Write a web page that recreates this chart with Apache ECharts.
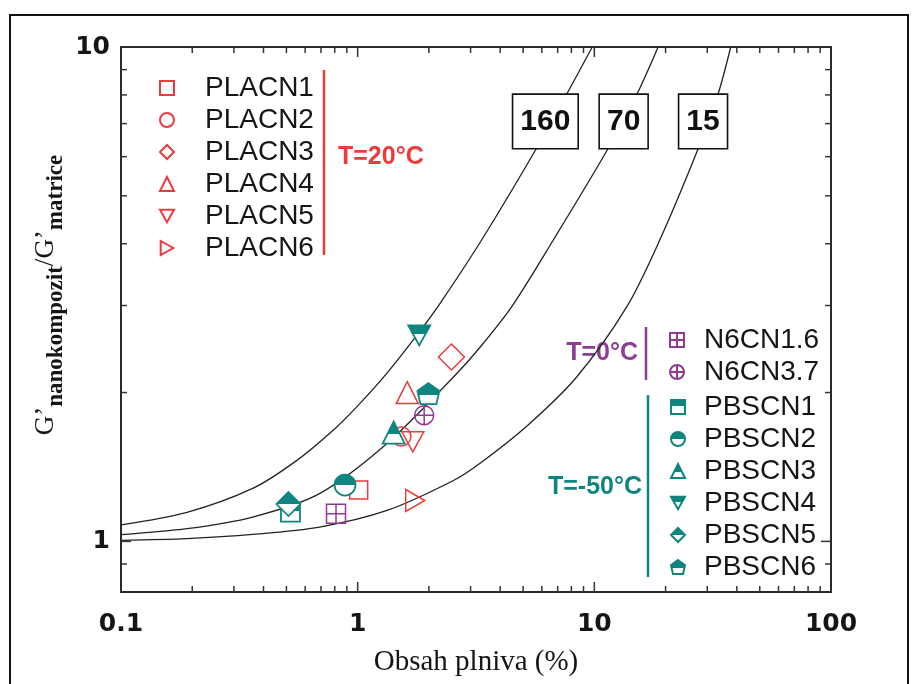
<!DOCTYPE html>
<html><head><meta charset="utf-8">
<script src="https://cdn.jsdelivr.net/npm/echarts@6/dist/echarts.min.js"></script>
<style>html,body{margin:0;padding:0;background:#fff}#chart{width:914px;height:684px}</style>
</head><body><div id="chart"></div>
<script>
// ---- data ----
const xTickLabels = [0.1, 1, 10, 100];
const yTickLabels = [1, 10];
const xMinorTicks = [0.2,0.3,0.4,0.5,0.6,0.7,0.8,0.9,2,3,4,5,6,7,8,9,20,30,40,50,60,70,80,90];
const xMajorTicks = [1, 10];
const yMinorTicks = [0.9,2,3,4,5,6,7,8,9];
const yMajorTicks = [1];
const X_MIN = 0.1, X_MAX = 100, Y_MIN = 0.79, Y_MAX = 10;

const curveNames = ['160', '70', '15'];
const curve160 = [[0.1,1.08],[0.19,1.145],[0.36,1.28],[0.55,1.455],[0.79,1.68],[1.0,1.88],[1.33,2.19],[1.83,2.66],[2.23,3.03],[3.34,4.07],[5.7,6.24],[7.68,8.06],[9.8,10]];
const curve70 = [[0.1,1.032],[0.19,1.061],[0.36,1.12],[0.69,1.249],[1.33,1.577],[2.54,2.15],[3.29,2.47],[4.47,2.98],[6.71,4.07],[11.45,6.24],[15.2,8.06],[18.6,10]];
const curve15 = [[0.1,1.005],[0.19,1.013],[0.36,1.033],[0.69,1.069],[1.33,1.155],[2.54,1.328],[3.29,1.439],[5.25,1.72],[8.42,2.15],[13.7,2.98],[18.9,4.07],[27.5,6.24],[33.4,8.06],[37.7,10]];
const curveLabelPos = [[6.21,7.07],[13.3,7.07],[28.8,7.07]];

const placnNames = ['PLACN1','PLACN2','PLACN3','PLACN4','PLACN5','PLACN6'];
const placnPoints = [[1.01,1.27],[1.53,1.63],[2.49,2.36],[1.62,2.0],[1.71,1.59],[1.75,1.21]];
const n6cnNames = ['N6CN1.6','N6CN3.7'];
const n6cnPoints = [[0.81,1.138],[1.91,1.80]];
const pbscnNames = ['PBSCN1','PBSCN2','PBSCN3','PBSCN4','PBSCN5','PBSCN6'];
const pbscnPoints = [[0.52,1.146],[0.884,1.30],[1.42,1.66],[1.82,2.61],[0.51,1.19],[1.99,1.99]];

// ---- styles ----
const RED = '#ec3a3d', PURPLE = '#8e3b93', TEAL = '#0f8580', INK = '#151515';
const triDown = 'path://M0,0 L10,0 L5,9 Z';
const triRight = 'path://M0,0 L9,5 L0,10 Z';
const pentagon = 'path://M5,0 L10,3.7 L8.6,10 L1.4,10 L0,3.7 Z';
const squarePlus = 'path://M0,0 L10,0 L10,10 L0,10 Z M5,0 L5,10 M0,5 L10,5';
const circlePlus = 'path://M0,5 A5,5 0 1 1 10,5 A5,5 0 1 1 0,5 Z M5,0 L5,10 M0,5 L10,5';
const placnSymbols = ['rect','circle','diamond','triangle',triDown,triRight];
const placnSizes = [18,19,26,22,[22,20],[19,22]];
const n6cnSymbols = [squarePlus, circlePlus];
const pbscnSymbols = ['rect','circle','triangle',triDown,'diamond',pentagon];
const pbscnSizes = [19,21,22,[22,20],24,[22,21]];
const pbscnFill = [0.45,0.5,0.55,0.45,0.5,0.55];

function halfFill(f){
  return new echarts.graphic.LinearGradient(0,0,0,1,[
    {offset:0,color:TEAL},{offset:f,color:TEAL},{offset:f,color:'#fff'},{offset:1,color:'#fff'}]);
}
const findIn = (arr, v) => arr.find(t => Math.abs(t - v) / t < 1e-6);

const series = [];
[curve160, curve70, curve15].forEach((c, i) => series.push({
  name: 'curve' + curveNames[i], type: 'line', data: c, showSymbol: false, smooth: 0.3,
  silent: true, z: 2, lineStyle: {color: '#222', width: 1.3}
}));
placnNames.forEach((n, i) => series.push({
  name: n, type: 'scatter', data: [placnPoints[i]], symbol: placnSymbols[i], symbolSize: placnSizes[i],
  z: 3, itemStyle: {color: 'rgba(255,255,255,0)', borderColor: RED, borderWidth: 1.5, opacity: 1}
}));
n6cnNames.forEach((n, i) => series.push({
  name: n, type: 'scatter', data: [n6cnPoints[i]], symbol: n6cnSymbols[i], symbolSize: 19,
  z: 4, itemStyle: {color: 'rgba(255,255,255,0)', borderColor: PURPLE, borderWidth: 1.5, opacity: 1}
}));
pbscnNames.forEach((n, i) => series.push({
  name: n, type: 'scatter', data: [pbscnPoints[i]], symbol: pbscnSymbols[i], symbolSize: pbscnSizes[i],
  z: 5, itemStyle: {color: halfFill(pbscnFill[i]), borderColor: TEAL, borderWidth: 1.8, opacity: 1}
}));
series.push({
  name: 'curveLabels', type: 'scatter', data: curveLabelPos, symbolSize: 2, silent: true, z: 6,
  itemStyle: {color: 'rgba(0,0,0,0)', opacity: 1},
  label: {show: true, position: 'inside', formatter: p => curveNames[p.dataIndex],
    fontFamily: 'Liberation Sans', fontWeight: 'bold', fontSize: 30, lineHeight: 34, color: '#111',
    backgroundColor: '#fff', borderColor: '#111', borderWidth: 1.6, padding: [10,7,9,7]}
});
const tickStyle = {stroke: '#333', lineWidth: 1.5};
series.push({
  type: 'custom', silent: true, clip: false, z: 7,
  data: xMinorTicks.map(v => [v, Y_MIN, 0]).concat(xMajorTicks.map(v => [v, Y_MIN, 1])),
  encode: {x: 0, y: 1},
  renderItem: (params, api) => {
    const v = api.value(0), L = api.value(2) ? 10 : 6;
    const b = api.coord([v, Y_MIN]), t = api.coord([v, Y_MAX]);
    return {type: 'group', children: [
      {type: 'line', shape: {x1: b[0], y1: b[1], x2: b[0], y2: b[1] - L}, style: tickStyle},
      {type: 'line', shape: {x1: t[0], y1: t[1], x2: t[0], y2: t[1] + L}, style: tickStyle}]};
  }
});
series.push({
  type: 'custom', silent: true, clip: false, z: 7,
  data: yMinorTicks.map(v => [X_MIN, v, 0]).concat(yMajorTicks.map(v => [X_MIN, v, 1])),
  encode: {x: 0, y: 1},
  renderItem: (params, api) => {
    const v = api.value(1), L = api.value(2) ? 10 : 6;
    const l = api.coord([X_MIN, v]), r = api.coord([X_MAX, v]);
    return {type: 'group', children: [
      {type: 'line', shape: {x1: l[0], y1: l[1], x2: l[0] + L, y2: l[1]}, style: tickStyle},
      {type: 'line', shape: {x1: r[0], y1: r[1], x2: r[0] - L, y2: r[1]}, style: tickStyle}]};
  }
});

const legendText = (padLeft) => ({fontFamily: 'Liberation Sans', fontSize: 28, lineHeight: 28, color: INK, padding: [0,0,0,padLeft]});
const legendBase = {orient: 'vertical', itemWidth: 14, itemHeight: 14, itemGap: 4, selectedMode: false};

const chart = echarts.init(document.getElementById('chart'), null, {renderer: 'canvas'});
chart.setOption({
  animation: false,
  backgroundColor: '#fff',
  grid: {left: 121, right: 83, top: 47, bottom: 92, containLabel: false, show: true,
    borderColor: '#2a2a2a', borderWidth: 2, backgroundColor: 'transparent'},
  xAxis: {
    type: 'log', logBase: 10, min: X_MIN, max: X_MAX,
    axisLine: {show: false}, axisTick: {show: false}, splitLine: {show: false},
    axisLabel: {formatter: v => { const t = findIn(xTickLabels, v); return t === undefined ? '' : String(t); },
      fontFamily: 'DejaVu Sans', fontWeight: 'bold', fontSize: 25, color: INK, margin: 20},
    name: 'Obsah plniva (%)', nameLocation: 'middle', nameGap: 56,
    nameTextStyle: {fontFamily: 'Liberation Serif', fontSize: 29, color: INK}
  },
  yAxis: {
    type: 'log', logBase: 10, min: Y_MIN, max: Y_MAX,
    axisLine: {show: false}, axisTick: {show: false}, splitLine: {show: false},
    axisLabel: {formatter: v => { const t = findIn(yTickLabels, v); return t === undefined ? '' : String(t); },
      fontFamily: 'DejaVu Sans', fontWeight: 'bold', fontSize: 25, color: INK, margin: 11}
  },
  legend: [
    Object.assign({}, legendBase, {left: 154, top: 69, data: placnNames, textStyle: legendText(26)}),
    Object.assign({}, legendBase, {left: 664, top: 321, data: n6cnNames, textStyle: legendText(15)}),
    Object.assign({}, legendBase, {left: 665, top: 388, data: pbscnNames, textStyle: legendText(14)})
  ],
  graphic: [
    {type: 'rect', silent: true, shape: {x: 10, y: 15, width: 898, height: 700}, style: {fill: 'none', stroke: '#111', lineWidth: 2}},
    {type: 'line', silent: true, shape: {x1: 324, y1: 70, x2: 324, y2: 255}, style: {stroke: RED, lineWidth: 2.5}},
    {type: 'text', silent: true, x: 338, y: 157, style: {text: 'T=20°C', fill: RED, font: 'bold 25px "Liberation Sans"', verticalAlign: 'middle'}},
    {type: 'line', silent: true, shape: {x1: 646, y1: 327, x2: 646, y2: 380}, style: {stroke: PURPLE, lineWidth: 2.5}},
    {type: 'text', silent: true, x: 638, y: 353, style: {text: 'T=0°C', fill: PURPLE, font: 'bold 25px "Liberation Sans"', align: 'right', verticalAlign: 'middle'}},
    {type: 'line', silent: true, shape: {x1: 648, y1: 395, x2: 648, y2: 577}, style: {stroke: TEAL, lineWidth: 2.5}},
    {type: 'text', silent: true, x: 642, y: 487, style: {text: 'T=-50°C', fill: TEAL, font: 'bold 25px "Liberation Sans"', align: 'right', verticalAlign: 'middle'}},
    {type: 'text', silent: true, x: 44, y: 295, rotation: Math.PI / 2,
      style: {text: '{g|G’}{s|nanokompozit}{g|/G’}{s|matrice}', align: 'center', verticalAlign: 'middle', fill: INK,
        rich: {
          g: {fontFamily: 'Liberation Serif', fontSize: 27, lineHeight: 24, verticalAlign: 'top', fill: INK},
          s: {fontFamily: 'Liberation Serif', fontWeight: 'bold', fontSize: 23, lineHeight: 20, padding: [13,0,0,0], verticalAlign: 'top', fill: INK}
        }}}
  ],
  series: series
});
</script>
</body></html>
